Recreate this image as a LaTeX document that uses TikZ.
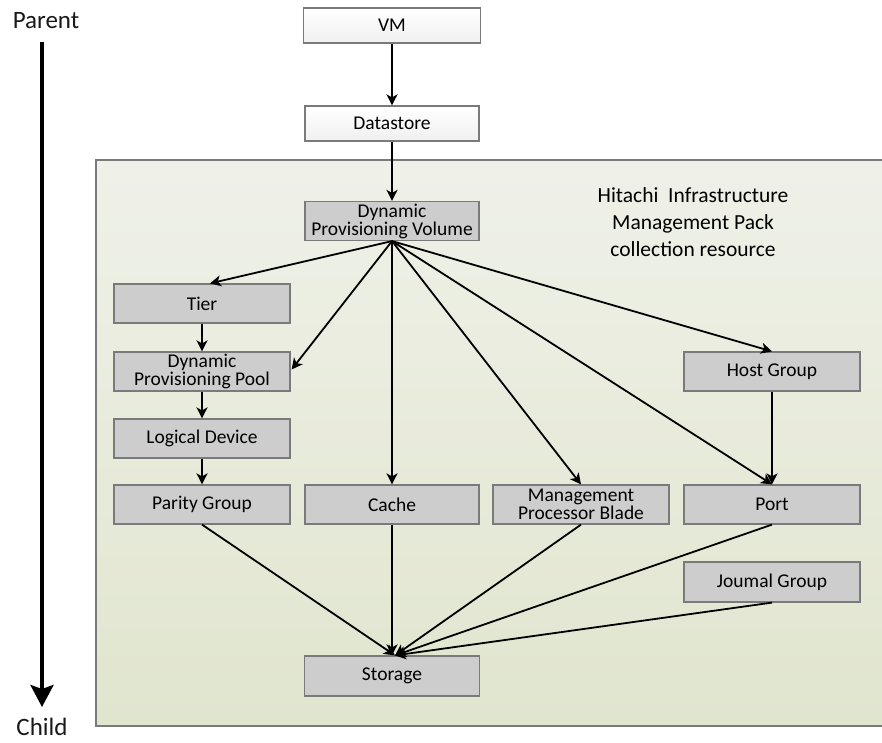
\documentclass[tikz,border=0pt]{standalone}
\usepackage{fontspec}
\setmainfont{Carlito}
\usetikzlibrary{arrows.meta,calc}
\definecolor{regionTop}{HTML}{EFF1E8}
\definecolor{regionBot}{HTML}{E0E5CE}
\definecolor{boxgray}{HTML}{CDCDCD}
\definecolor{edgegray}{HTML}{7A7A7A}
\tikzset{
  resbox/.style={draw=edgegray, line width=1.2pt, fill=boxgray,
    minimum width=176pt, minimum height=39pt, inner sep=0pt,
    align=center, font=\fontsize{19.5}{18}\selectfont, text=black},
  topbox/.style={resbox, top color=white, bottom color=black!6},
  link/.style={line width=1.8pt, -{Stealth[length=11pt,width=11pt,inset=3pt]}},
}
\begin{document}
\begin{tikzpicture}[x=1pt,y=-1pt]
\useasboundingbox (0,0) rectangle (882,743);
% collection region
\shade[top color=regionTop, bottom color=regionBot] (96,160) rectangle (884,726);
\draw[edgegray, line width=1.5pt] (884,160) -- (96,160) -- (96,726) -- (884,726);

% parent / child axis
\node[font=\fontsize{25}{25}\selectfont, text=black!90] (parent) at (46,21) {Parent};
\node[font=\fontsize{25}{25}\selectfont, text=black!90] (child) at (42,727) {Child};
\coordinate (axtop) at (42,42);
\coordinate (axbot) at (42,707);
\draw[line width=4pt, -{Stealth[length=22pt,width=23pt,inset=4pt]}] (axtop) -- (axbot);

% resources
\node[topbox, minimum width=177pt, minimum height=35pt] (vm) at (392,25.5) {VM};
\node[topbox, minimum width=174pt, minimum height=35pt] (ds) at (392,123.5) {Datastore};
\node[resbox, minimum width=174pt] (dpv) at (392,221) {Dynamic\\Provisioning Volume};
\node[resbox] (tier) at (202,303.5) {Tier};
\node[resbox] (dpp) at (202,371.5) {Dynamic\\Provisioning Pool};
\node[resbox] (ld) at (202,438.5) {Logical Device};
\node[resbox] (pg) at (202,504.5) {Parity Group};
\node[resbox, minimum width=174pt] (cache) at (392,504.5) {Cache};
\node[resbox] (mpb) at (581,504.5) {Management\\Processor Blade};
\node[resbox] (port) at (772,504.5) {Port};
\node[resbox] (hg) at (772,371.5) {Host Group};
\node[resbox, minimum height=40pt] (jg) at (772,582) {Joumal Group};
\node[resbox, minimum width=175pt, minimum height=40pt] (st) at (392,676) {Storage};

\node[align=center, font=\fontsize{21.5}{27}\selectfont, text=black] (label) at (693,222)
  {Hitachi\ \ Infrastructure\\Management Pack\\collection resource};

% parent-to-child links
\draw[link] (vm) -- (ds);
\draw[link] (ds) -- (dpv);
\draw[link] (dpv.south) -- ($(tier.north)+(8,0)$);
\draw[link] (dpv.south) -- ($(dpp.east)+(1,-2)$);
\draw[link] (dpv.south) -- (cache.north);
\draw[link] (dpv.south) -- (mpb.north);
\draw[link] (dpv.south) -- (port.north);
\draw[link] (dpv.south) -- (hg.north);
\draw[link] (tier) -- (dpp);
\draw[link] (dpp) -- (ld);
\draw[link] (ld) -- (pg);
\draw[link] (hg) -- (port);
\coordinate (sttop) at ($(st.north)+(3,0)$);
\draw[link] (pg.south) -- (sttop);
\draw[link] (cache.south) -- (cache.south |- sttop);
\draw[link] (mpb.south) -- (sttop);
\draw[link] (port.south) -- (sttop);
\draw[link] (jg.south) -- (sttop);
\end{tikzpicture}
\end{document}
